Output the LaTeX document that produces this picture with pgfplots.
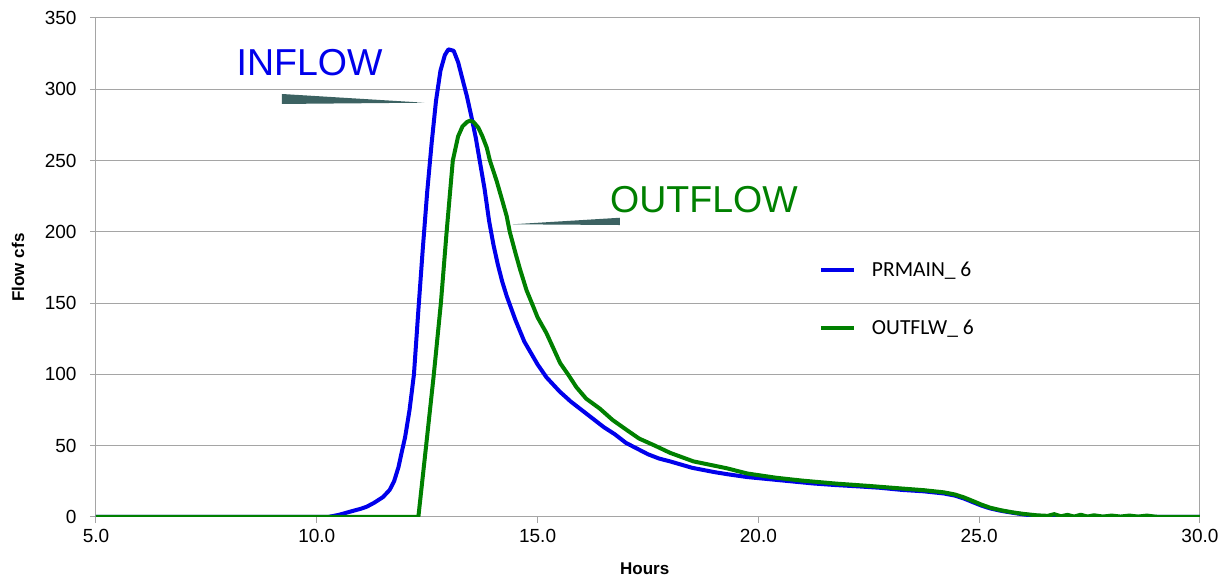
\documentclass[border=0pt]{standalone}
\usepackage{fontspec}
\setmainfont{Liberation Sans}
\newfontfamily\carlito{Carlito}
\usepackage{pgfplots}
\pgfplotsset{compat=1.18}
\usepackage{pgfplotstable}

\definecolor{inblue}{RGB}{0,0,235}
\definecolor{outgreen}{RGB}{0,128,0}
\definecolor{wedge}{RGB}{60,98,98}
\definecolor{gridgray}{RGB}{165,165,165}

\pgfplotstableread{
h q
5.0 0
10.25 0
10.5 1.5
10.75 3.7
11.0 5.8
11.13 7.2
11.3 10
11.5 14
11.65 19
11.75 25
11.85 35
11.92 45
12.0 56
12.1 75
12.2 100
12.3 145
12.4 188
12.5 228
12.6 262
12.7 292
12.8 313
12.9 324
12.98 328
13.1 327
13.2 319
13.3 307
13.4 295
13.5 281
13.6 266
13.7 248
13.8 230
13.9 208
14.0 191
14.1 177
14.2 165
14.3 155
14.5 138
14.7 123
15.0 107
15.2 98
15.5 88
15.75 81
16.0 75
16.25 69
16.5 63
16.75 58
17.0 52
17.25 48
17.5 44
17.75 41
18.0 39
18.5 34.5
19.0 31.5
19.3 30
19.75 28
20.25 26.5
20.75 25
21.25 23.5
21.75 22.4
22.25 21.5
22.75 20.5
23.25 19
23.75 18
24.2 16.5
24.45 15
24.65 13
24.85 10.5
25.05 8
25.25 6
25.5 4.3
25.75 3
26.0 1.8
26.3 0.8
26.6 0.2
27.0 0
30.0 0
}\inflow

\pgfplotstableread{
h q
5.0 0
12.3 0
12.49 54
12.65 100
12.81 150
12.94 200
13.08 250
13.2 267
13.3 274
13.4 277
13.47 278
13.55 277
13.66 273
13.75 267
13.85 259
13.92 250
14.07 236
14.2 222
14.3 211
14.37 200
14.5 185
14.6 174
14.75 159
14.87 150
15.0 140
15.2 129
15.51 108
15.69 100
15.88 91
16.1 83
16.41 76
16.7 68
17.02 61
17.3 55
17.66 50
18.0 45
18.53 39
19.0 36
19.28 34.2
19.75 30.5
20.41 27.5
21.0 25.5
21.77 23.4
22.5 21.8
23.28 19.9
23.75 18.8
24.2 17.3
24.45 15.8
24.65 13.8
24.85 11.3
25.05 8.7
25.25 6.5
25.5 4.7
25.75 3.3
26.0 2.2
26.3 1.2
26.55 0.8
26.7 2.0
26.85 0.5
27.0 1.5
27.15 0.3
27.3 1.6
27.45 0.3
27.6 1.2
27.8 0.3
28.0 1.0
28.2 0.3
28.4 1.0
28.6 0.3
28.8 1.0
29.0 0.2
29.2 0
30.0 0
}\outflow

\begin{document}
\begin{tikzpicture}
\path[use as bounding box] (-96pt,-63pt) rectangle (1132pt,517pt);
\begin{axis}[
  at={(0pt,0pt)}, anchor=south west,
  scale only axis, width=1104pt, height=499pt,
  xmin=5, xmax=30, ymin=0, ymax=350,
  xtick={5,10,...,30}, ytick={0,50,...,350},
  xtick pos=bottom, ytick pos=left,
  axis line style={gridgray, line width=1pt},
  ymajorgrids, grid style={gridgray, line width=1pt},
  tick align=outside, major tick length=6pt,
  tick style={gridgray, line width=1pt},
  /pgf/number format/assume math mode=true,
  tick label style={font=\fontsize{19}{22}\selectfont},
  xticklabel style={/pgf/number format/fixed, /pgf/number format/fixed zerofill, /pgf/number format/precision=1, yshift=-3pt},
  yticklabel style={xshift=-10pt},
  xlabel={Hours}, ylabel={Flow cfs},
  every axis x label/.style={at={(axis description cs:0.497,-0.104)}, anchor=center, font=\bfseries\fontsize{17}{20}\selectfont},
  every axis y label/.style={at={(axis description cs:-0.0707,0.5)}, anchor=center, rotate=90, font=\bfseries\fontsize{17}{20}\selectfont},
  legend style={draw=none, fill=none, at={(rel axis cs:0.652,0.52)}, anchor=north west,
    font=\carlito\fontsize{21.5}{25}\selectfont, row sep=38pt, column sep=14pt, nodes={inner sep=2pt}},
  legend cell align=left,
  legend image code/.code={\draw[#1] (0pt,0pt) -- (33pt,0pt);},
]
\addplot[inblue, line width=4pt, line join=round] table[x=h, y=q] {\inflow};
\addlegendentry{PRMAIN\_ 6}
\addplot[outgreen, line width=4pt, line join=round] table[x=h, y=q] {\outflow};
\addlegendentry{OUTFLW\_ 6}

\fill[wedge] (axis cs:9.212,296.7) -- (axis cs:12.434,290.6) -- (axis cs:9.212,289.7) -- cycle;
\fill[wedge] (axis cs:14.436,205.3) -- (axis cs:16.866,209.9) -- (axis cs:16.866,204.8) -- cycle;
\node[anchor=base west, inner sep=0pt, text=inblue, font=\fontsize{37.5}{40}\selectfont] at (axis cs:8.18,310) {INFLOW};
\node[anchor=base west, inner sep=0pt, text=outgreen, font=\fontsize{37.5}{40}\selectfont] at (axis cs:16.64,213.9) {OUTFLOW};
\end{axis}
\end{tikzpicture}
\end{document}
